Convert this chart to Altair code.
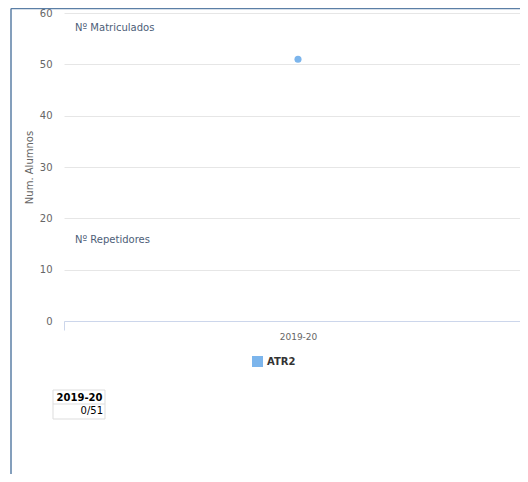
import altair as alt
import pandas as pd

# ---- data ----
years = ["2019-20"]
matriculados = [51]
repetidores = [0]
series_name = ["ATR2"]
ann_labels = ["Nº Matriculados", "Nº Repetidores"]
ann_y = [57.1, 15.8]
table_header = years
table_cells = [f"{r}/{m}" for r, m in zip(repetidores, matriculados)]

FONT = "DejaVu Sans"

df = pd.DataFrame({"curso": years, "alumnos": matriculados, "serie": series_name})
ann = pd.DataFrame({"label": ann_labels, "y": ann_y})
tab = pd.DataFrame({"head": table_header, "cell": table_cells})

xscale = alt.Scale(type="band", domain=years, range=[0, 468], paddingInner=0, paddingOuter=0)
yscale = alt.Scale(domain=[0, 60], nice=False)

points = alt.Chart(df).mark_point(filled=True, opacity=1, size=50, shape="circle").encode(
    x=alt.X("curso:N", scale=xscale,
            axis=alt.Axis(title=None, labelAngle=0, tickBand="extent", tickSize=9,
                          tickColor="#ccd6eb", domainColor="#ccd6eb", labelColor="#666666",
                          labelFontSize=9, labelPadding=2, grid=False)),
    y=alt.Y("alumnos:Q", scale=yscale,
            axis=alt.Axis(title="Num. Alumnos", values=[0, 10, 20, 30, 40, 50, 60],
                          ticks=False, domain=False, grid=True, gridColor="#e6e6e6",
                          labelColor="#666666", labelFontSize=10, labelPadding=12,
                          titleColor="#666666", titleFontSize=10, titleFontWeight="normal",
                          titlePadding=5)),
    color=alt.Color("serie:N", scale=alt.Scale(domain=series_name, range=["#7cb5ec"]),
                    legend=alt.Legend(title=None, orient="none", legendX=188, legendY=343,
                                      symbolType="square", symbolSize=121, symbolStrokeWidth=0,
                                      labelFontWeight="bold", labelFontSize=10, labelColor="#333333",
                                      labelOffset=4, padding=0)),
)

annotations = alt.Chart(ann).mark_text(align="left", baseline="middle", fontSize=10,
                                       color="#4d5e78", font=FONT).encode(
    x=alt.value(11),
    y=alt.Y("y:Q", scale=yscale),
    text="label:N",
)

frame_v = alt.Chart(df).mark_rule(color="#5b7fa6", strokeWidth=1.5).encode(
    x=alt.value(-53), y=alt.value(-4.5), y2=alt.value(470))
frame_h = alt.Chart(df).mark_rule(color="#5b7fa6", strokeWidth=1.5).encode(
    x=alt.value(-53), x2=alt.value(470), y=alt.value(-4.5))

table_box = alt.Chart(tab).mark_rect(fill="white", stroke="#dddddd", strokeWidth=1).encode(
    x=alt.value(-11), x2=alt.value(41), y=alt.value(377), y2=alt.value(406))
table_line = alt.Chart(tab).mark_rule(color="#dddddd", strokeWidth=1).encode(
    x=alt.value(-11), x2=alt.value(41), y=alt.value(391))
table_head = alt.Chart(tab).mark_text(align="center", baseline="middle", fontSize=10,
                                      fontWeight="bold", color="#000000", font=FONT).encode(
    x=alt.value(15.5), y=alt.value(385), text="head:N")
table_cell = alt.Chart(tab).mark_text(align="right", baseline="middle", fontSize=10,
                                      color="#000000", font=FONT).encode(
    x=alt.value(39), y=alt.value(398), text="cell:N")

chart = alt.layer(
    annotations, points, frame_v, frame_h, table_box, table_line, table_head, table_cell
).properties(
    width=456, height=308,
    autosize=alt.AutoSizeParams(type="none"),
    padding={"left": 56, "top": 5, "right": 0, "bottom": 153},
).configure(
    font=FONT, background="white"
).configure_view(stroke=None)

chart.save("out.html", embed_options={"renderer": "svg", "actions": False})
